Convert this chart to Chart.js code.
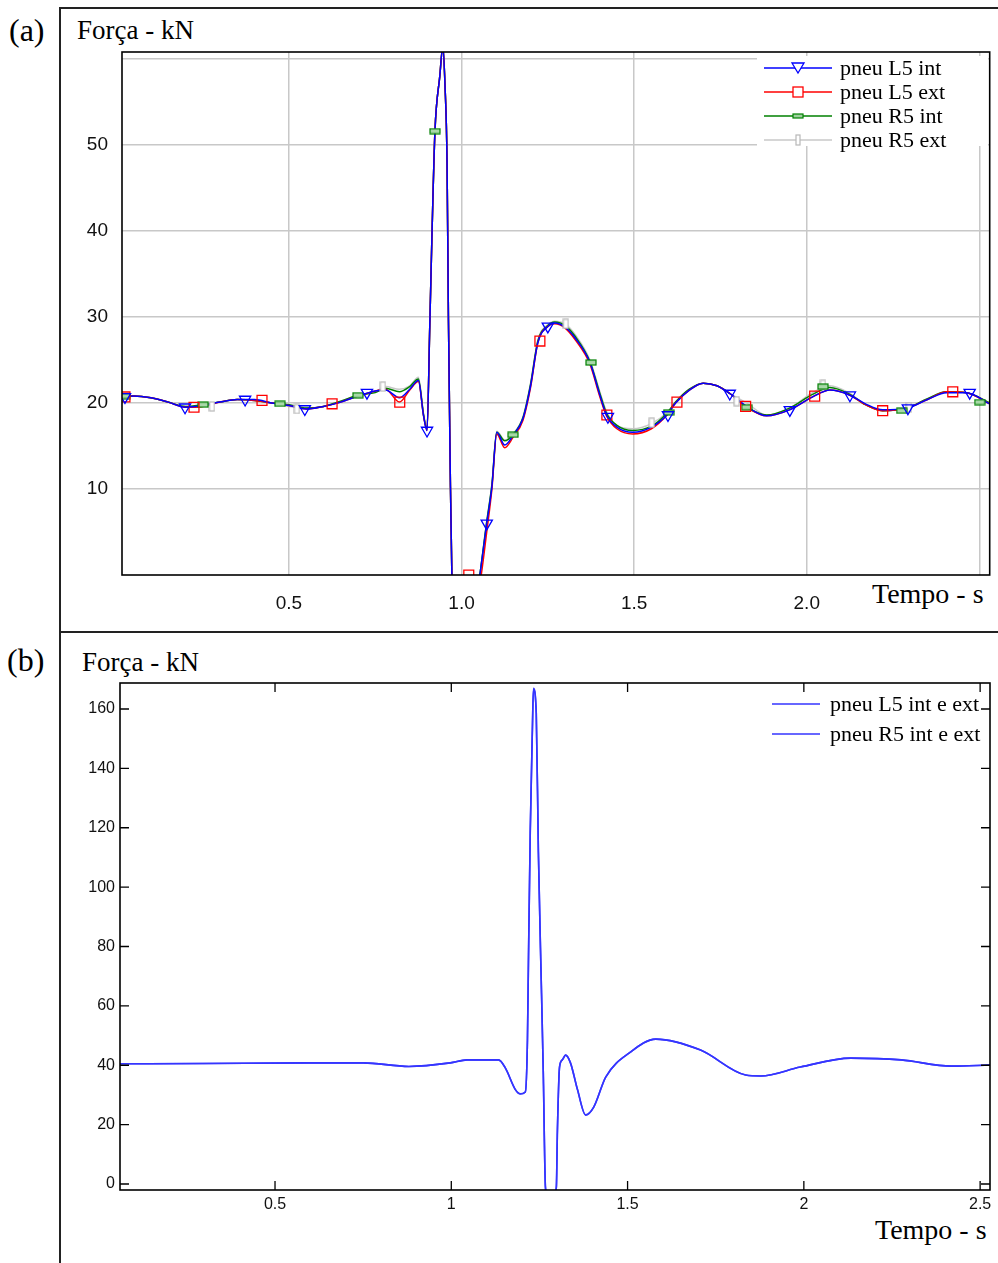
<!DOCTYPE html>
<html>
<head>
<meta charset="utf-8">
<script src="https://cdn.jsdelivr.net/npm/chart.js"></script>
<style>
  body { margin: 0; background: #fff; width: 998px; height: 1263px; position: relative; overflow: hidden; }
  .abs { position: absolute; }
  .serif { font-family: "Liberation Serif", "Times New Roman", serif; color: #000; white-space: nowrap; line-height: 1; }
  .hline { position: absolute; height: 2px; background: #222; }
  .vline { position: absolute; width: 2px; background: #222; }
  .legend-row { position: absolute; left: 0; height: 24px; width: 100%; }
  .legend-row svg { position: absolute; top: 5px; }
  .legend-row span { position: absolute; top: 1px; font-size: 22px; }
</style>
</head>
<body>
<!-- panel frames -->
<div class="hline" style="left:60px; top:7px; width:938px;"></div>
<div class="vline" style="left:59px; top:7px; height:1256px;"></div>
<div class="hline" style="left:60px; top:631px; width:938px;"></div>

<div class="abs serif" style="left:9px; top:14px; font-size:32px;">(a)</div>
<div class="abs serif" style="left:77px; top:17px; font-size:27px;">Força - kN</div>
<div class="abs serif" style="left:872px; top:580px; font-size:28px;">Tempo - s</div>

<div class="abs serif" style="left:7px; top:644px; font-size:32px;">(b)</div>
<div class="abs serif" style="left:82px; top:649px; font-size:27px;">Força - kN</div>
<div class="abs serif" style="left:875px; top:1216px; font-size:28px;">Tempo - s</div>

<canvas id="chartA" class="abs" width="936" height="590" style="left:62px; top:39px;"></canvas>
<canvas id="chartB" class="abs" width="936" height="590" style="left:62px; top:670px;"></canvas>

<!-- legend (a) -->
<div class="abs serif" style="left:757px; top:56px; width:231px; height:90px; background:#fff;">
  <div class="legend-row" style="top:0px;">
    <svg width="70" height="14" style="left:7px;"><line x1="0" y1="7" x2="68" y2="7" stroke="#0000ff" stroke-width="1.5"/><polygon points="28,2 40,2 34,12" fill="#fff" stroke="#0000ff" stroke-width="1.3"/></svg>
    <span style="left:83px;">pneu L5 int</span>
  </div>
  <div class="legend-row" style="top:24px;">
    <svg width="70" height="14" style="left:7px;"><line x1="0" y1="7" x2="68" y2="7" stroke="#ff0000" stroke-width="1.5"/><rect x="29" y="2" width="10" height="10" fill="#fff" stroke="#ff0000" stroke-width="1.3"/></svg>
    <span style="left:83px;">pneu L5 ext</span>
  </div>
  <div class="legend-row" style="top:48px;">
    <svg width="70" height="14" style="left:7px;"><line x1="0" y1="7" x2="68" y2="7" stroke="#008000" stroke-width="1.5"/><rect x="29" y="5" width="10" height="4" fill="#9fd09f" stroke="#008000" stroke-width="1.2"/></svg>
    <span style="left:83px;">pneu R5 int</span>
  </div>
  <div class="legend-row" style="top:72px;">
    <svg width="70" height="14" style="left:7px;"><line x1="0" y1="7" x2="68" y2="7" stroke="#c8c8c8" stroke-width="1.5"/><rect x="32" y="2" width="4" height="10" fill="#fff" stroke="#b8b8b8" stroke-width="1.2"/></svg>
    <span style="left:83px;">pneu R5 ext</span>
  </div>
</div>

<!-- legend (b) -->
<div class="abs serif" style="left:765px; top:692px; width:222px; height:56px;">
  <div class="legend-row" style="top:0px;">
    <svg width="52" height="14" style="left:7px;"><line x1="0" y1="7" x2="48" y2="7" stroke="#3535ff" stroke-width="1.5"/></svg>
    <span style="left:65px;">pneu L5 int e ext</span>
  </div>
  <div class="legend-row" style="top:30px;">
    <svg width="52" height="14" style="left:7px;"><line x1="0" y1="7" x2="48" y2="7" stroke="#3535ff" stroke-width="1.5"/></svg>
    <span style="left:65px;">pneu R5 int e ext</span>
  </div>
</div>

<script>
// ---- panel (a) data ----
const tempoA = [0.016, 0.05, 0.1, 0.15, 0.2, 0.25, 0.3, 0.35, 0.4, 0.45, 0.5, 0.55, 0.6, 0.65, 0.7, 0.75, 0.78, 0.82, 0.85, 0.875,
  0.89, 0.9, 0.908, 0.914, 0.923, 0.937, 0.946, 0.952, 0.958, 0.962, 0.967, 0.972, 0.99, 1.02, 1.045, 1.053, 1.073, 1.088, 1.102, 1.125,
  1.149, 1.178, 1.2, 1.221, 1.25, 1.27, 1.3, 1.33, 1.372, 1.4, 1.42, 1.45, 1.496, 1.55, 1.595, 1.62, 1.66, 1.7, 1.74, 1.777,
  1.826, 1.884, 1.95, 2.017, 2.067, 2.125, 2.17, 2.22, 2.29, 2.35, 2.405, 2.463, 2.53];

const l5Int = [20.7, 20.8, 20.6, 20.1, 19.5, 19.7, 20.1, 20.4, 20.4, 20.0, 19.7, 19.3, 19.6, 20.1, 20.8, 21.4, 21.5, 20.6, 21.6, 22.6,
  18.5, 16.8, 29, 39, 51.6, 58, 61.5, 57, 48, 30, 13, 0, -8, -8, -2, 0, 6, 10.3, 16.6, 15.1,
  16.2, 18.2, 22.0, 27.0, 28.9, 29.3, 28.8, 27.5, 24.7, 21.0, 18.6, 17.2, 16.6, 17.2, 18.6, 20.0, 21.5, 22.3, 22.0, 21.1,
  19.6, 18.5, 19.2, 20.7, 21.5, 20.9, 19.9, 19.2, 19.4, 20.4, 21.2, 21.2, 19.9];

const l5Ext = [20.7, 20.8, 20.6, 20.1, 19.5, 19.6, 20.1, 20.4, 20.3, 20.0, 19.7, 19.3, 19.6, 20.1, 20.8, 21.4, 21.6, 20.1, 21.5, 22.5,
  18.5, 16.8, 29, 39, 51.6, 58, 61.5, 57, 48, 30, 13, 0, -8, -8, -2, -1, 5.0, 10.0, 16.4, 14.8,
  16.0, 18.0, 21.8, 27.0, 28.9, 29.2, 28.7, 27.3, 24.5, 20.8, 18.5, 17.0, 16.4, 17.0, 18.6, 20.0, 21.5, 22.3, 22.0, 21.1,
  19.5, 18.5, 19.2, 20.7, 21.5, 20.9, 19.8, 19.1, 19.4, 20.4, 21.3, 21.2, 19.9];

const r5Int = [20.8, 20.8, 20.6, 20.1, 19.6, 19.8, 20.1, 20.4, 20.3, 20.0, 19.8, 19.4, 19.6, 20.2, 20.9, 21.2, 21.7, 21.3, 21.9, 22.8,
  18.6, 16.9, 29, 39, 51.6, 58, 61.5, 57, 48, 30, 13, 0, -8, -8, -2, 0, 6.2, 10.5, 16.6, 15.6,
  16.3, 18.3, 22.2, 27.2, 29.0, 29.4, 29.0, 27.7, 24.8, 21.2, 18.8, 17.4, 16.8, 17.3, 18.8, 20.1, 21.6, 22.3, 22.0, 21.1,
  19.5, 18.6, 19.4, 21.0, 21.8, 21.0, 19.8, 19.1, 19.4, 20.5, 21.3, 21.2, 20.0];

const r5Ext = [20.8, 20.8, 20.6, 20.1, 19.6, 19.6, 20.1, 20.4, 20.3, 20.0, 19.6, 19.4, 19.6, 20.2, 20.9, 21.3, 21.9, 21.6, 22.0, 23.0,
  18.7, 17.0, 29, 39, 51.6, 58, 61.5, 57, 48, 30, 13, 0, -8, -8, -2, 0, 6.3, 10.6, 16.7, 15.7,
  16.4, 18.4, 22.3, 27.3, 29.1, 29.5, 29.2, 27.9, 25.0, 21.4, 19.0, 17.4, 17.0, 17.6, 18.9, 20.1, 21.6, 22.3, 22.0, 21.1,
  20.0, 18.6, 19.4, 21.2, 22.0, 21.1, 19.8, 19.1, 19.4, 20.5, 21.3, 21.2, 20.0];

// markers (time, value) for each tyre
const l5IntMkT = [0.025, 0.199, 0.373, 0.546, 0.726, 0.9, 1.073, 1.25, 1.424, 1.598, 1.777, 1.951, 2.125, 2.293, 2.472];
const l5IntMkV = [20.7, 19.5, 20.4, 19.3, 21.2, 16.8, 6.0, 28.9, 18.4, 18.6, 21.1, 19.2, 20.9, 19.4, 21.2];
const l5ExtMkT = [0.025, 0.225, 0.422, 0.625, 0.821, 1.021, 1.227, 1.421, 1.624, 1.823, 2.023, 2.22, 2.423];
const l5ExtMkV = [20.7, 19.5, 20.3, 19.9, 20.1, 0.0, 27.2, 18.6, 20.1, 19.6, 20.8, 19.1, 21.3];
const r5IntMkT = [0.025, 0.251, 0.474, 0.7, 0.923, 1.149, 1.375, 1.6, 1.826, 2.047, 2.275, 2.501];
const r5IntMkV = [20.8, 19.8, 19.9, 20.9, 51.6, 16.3, 24.7, 18.9, 19.5, 21.9, 19.1, 20.1];
const r5ExtMkT = [0.277, 0.523, 0.772, 1.302, 1.551, 1.797, 2.047, 2.296];
const r5ExtMkV = [19.6, 19.3, 21.9, 29.2, 17.7, 20.2, 22.1, 19.5];

const xTicksA = [0.5, 1.0, 1.5, 2.0, 2.5];
const xLabelsA = ['0.5', '1.0', '1.5', '2.0', ''];
const yTicksA = [10, 20, 30, 40, 50, 60];
const yLabelsA = ['10', '20', '30', '40', '50', ''];

// ---- panel (b) data ----
const tempoB = [0.06, 0.3, 0.6, 0.75, 0.88, 0.997, 1.045, 1.134, 1.153, 1.182, 1.196, 1.21, 1.216, 1.219, 1.224, 1.23, 1.233,
  1.241, 1.247, 1.256, 1.261, 1.267, 1.28, 1.298, 1.301, 1.307, 1.315, 1.324, 1.338, 1.358, 1.381, 1.404, 1.438, 1.509,
  1.58, 1.707, 1.835, 1.878, 1.99, 2.133, 2.276, 2.418, 2.528];
const l5IntExt = [40.5, 40.6, 40.8, 40.8, 39.6, 40.8, 41.8, 41.8, 39.1, 31.7, 30.3, 31, 48.5, 76.5, 119, 153, 167,
  158.6, 112, 64, 37, -1, -8, -1, 18, 39.4, 41.8, 43.4, 40.8, 31.7, 23.2, 25.9, 36, 44.5,
  48.8, 45.1, 36.7, 36.4, 39.4, 42.4, 41.8, 39.7, 40.1];
const r5IntExt = [40.5, 40.6, 40.8, 40.8, 39.6, 40.8, 41.8, 41.8, 39.2, 31.8, 30.4, 31, 48.5, 76.5, 119, 153, 166.5,
  158.6, 112, 64, 37, -1, -8, -1, 18, 39.4, 41.8, 43.4, 40.8, 31.8, 23.3, 25.9, 36, 44.5,
  48.8, 45.1, 36.7, 36.4, 39.4, 42.4, 41.8, 39.7, 40.1];

const xTicksB = [0.5, 1, 1.5, 2, 2.5];
const xLabelsB = ['0.5', '1', '1.5', '2', '2.5'];
const yTicksB = [0, 20, 40, 60, 80, 100, 120, 140, 160];

// ---- helpers ----
const pts = (xs, ys) => xs.map((x, i) => ({ x: x, y: ys[i] }));

function boxMarker(w, h, stroke, fill) {
  const c = document.createElement('canvas');
  c.width = w + 2; c.height = h + 2;
  const g = c.getContext('2d');
  g.fillStyle = fill; g.fillRect(1, 1, w, h);
  g.strokeStyle = stroke; g.lineWidth = 1.2; g.strokeRect(1, 1, w, h);
  return c;
}

// black plot frame, optional inward ticks (matlab style)
const boxFrame = {
  id: 'boxFrame',
  afterDatasetsDraw(chart, args, opts) {
    const { ctx, chartArea: a, scales } = chart;
    ctx.save();
    ctx.strokeStyle = '#000';
    ctx.lineWidth = 1.6;
    ctx.strokeRect(a.left, a.top, a.right - a.left, a.bottom - a.top);
    if (opts.tickLen) {
      const L = opts.tickLen;
      ctx.lineWidth = 1.3;
      ctx.beginPath();
      scales.x.ticks.forEach(t => {
        const px = scales.x.getPixelForValue(t.value);
        ctx.moveTo(px, a.bottom); ctx.lineTo(px, a.bottom - L);
        ctx.moveTo(px, a.top); ctx.lineTo(px, a.top + L);
      });
      scales.y.ticks.forEach(t => {
        const py = scales.y.getPixelForValue(t.value);
        ctx.moveTo(a.left, py); ctx.lineTo(a.left + L, py);
        ctx.moveTo(a.right, py); ctx.lineTo(a.right - L, py);
      });
      ctx.stroke();
    }
    ctx.restore();
  }
};

// fix axis box sizes so the plot areas land where the reference has them
const fixY = w => s => { s.width = w; s.paddingTop = 0; s.paddingBottom = 0; };

const lineDs = (data, color, order, width) => ({
  data: data, showLine: true, borderColor: color, borderWidth: width || 1.5,
  pointRadius: 0, cubicInterpolationMode: 'monotone', order: order
});
const markDs = (data, color, style, radius, order, rot) => ({
  data: data, showLine: false, pointStyle: style, pointRadius: radius, pointRotation: rot || 0,
  pointBorderColor: color, pointBackgroundColor: 'rgba(255,255,255,0)', pointBorderWidth: 1.3, order: order
});

// ---- chart (a) ----
new Chart(document.getElementById('chartA'), {
  type: 'scatter',
  data: {
    datasets: [
      markDs(pts(l5IntMkT, l5IntMkV), '#0000ff', 'triangle', 6.5, 0, 180),
      markDs(pts(l5ExtMkT, l5ExtMkV), '#ff0000', 'rect', 7, 1),
      markDs(pts(r5IntMkT, r5IntMkV), '#008000', boxMarker(10, 5, '#008000', '#a8d8a8'), 5, 2),
      markDs(pts(r5ExtMkT, r5ExtMkV), '#b8b8b8', boxMarker(5, 9, '#b8b8b8', '#ffffff'), 5, 3),
      lineDs(pts(tempoA, l5Int), '#0000ff', 4),
      lineDs(pts(tempoA, l5Ext), '#ff0000', 5),
      lineDs(pts(tempoA, r5Int), '#008000', 6),
      lineDs(pts(tempoA, r5Ext), '#c8c8c8', 7)
    ]
  },
  options: {
    responsive: false,
    animation: false,
    devicePixelRatio: 1,
    layout: { padding: { top: 13, right: 8, left: 0, bottom: 0 } },
    plugins: { legend: { display: false }, tooltip: { enabled: false }, boxFrame: {} },
    scales: {
      x: {
        type: 'linear', min: 0.0164, max: 2.53,
        afterBuildTicks: s => { s.ticks = xTicksA.map(v => ({ value: v })); },
        afterFit: s => { s.height = 54; },
        ticks: { callback: (v, i) => xLabelsA[i], font: { family: 'Liberation Sans', size: 19 }, color: '#111', padding: 17, maxRotation: 0, autoSkip: false },
        grid: { color: '#c8c8c8', lineWidth: 1.5, drawTicks: false },
        border: { display: false }
      },
      y: {
        type: 'linear', min: 0, max: 60.8,
        afterBuildTicks: s => { s.ticks = yTicksA.map(v => ({ value: v })); },
        afterFit: fixY(60),
        ticks: { callback: (v, i) => yLabelsA[i], font: { family: 'Liberation Sans', size: 19 }, color: '#111', padding: 14, autoSkip: false },
        grid: { color: '#c8c8c8', lineWidth: 1.5, drawTicks: false },
        border: { display: false }
      }
    }
  },
  plugins: [boxFrame]
});

// ---- chart (b) ----
new Chart(document.getElementById('chartB'), {
  type: 'scatter',
  data: {
    datasets: [
      lineDs(pts(tempoB, l5IntExt), '#3535ff', 0, 1.6),
      lineDs(pts(tempoB, r5IntExt), '#3535ff', 1, 1.6)
    ]
  },
  options: {
    responsive: false,
    animation: false,
    devicePixelRatio: 1,
    layout: { padding: { top: 13, right: 8, left: 0, bottom: 0 } },
    plugins: { legend: { display: false }, tooltip: { enabled: false }, boxFrame: { tickLen: 9 } },
    scales: {
      x: {
        type: 'linear', min: 0.0603, max: 2.528,
        afterBuildTicks: s => { s.ticks = xTicksB.map(v => ({ value: v })); },
        afterFit: s => { s.height = 70; },
        ticks: { callback: (v, i) => xLabelsB[i], font: { family: 'Liberation Sans', size: 16 }, color: '#111', padding: 5, maxRotation: 0, autoSkip: false },
        grid: { display: false, drawTicks: false },
        border: { display: false }
      },
      y: {
        type: 'linear', min: -2.02, max: 168.76,
        afterBuildTicks: s => { s.ticks = yTicksB.map(v => ({ value: v })); },
        afterFit: fixY(58),
        ticks: { font: { family: 'Liberation Sans', size: 16 }, color: '#111', padding: 5, autoSkip: false },
        grid: { display: false, drawTicks: false },
        border: { display: false }
      }
    }
  },
  plugins: [boxFrame]
});
</script>
</body>
</html>
